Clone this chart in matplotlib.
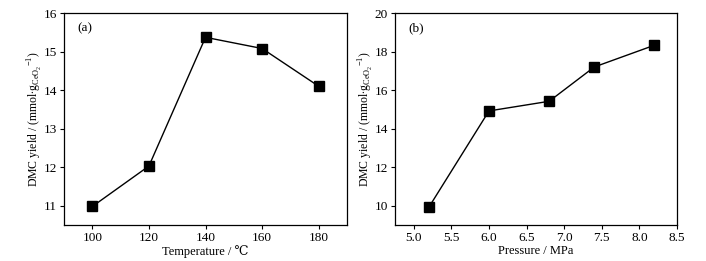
import matplotlib
matplotlib.use("Agg")
import matplotlib.pyplot as plt

plt.rcParams['font.family'] = ['Liberation Serif', 'DejaVu Serif']
plt.rcParams['mathtext.fontset'] = 'custom'
plt.rcParams['mathtext.rm'] = 'Liberation Serif'

temp = [100, 120, 140, 160, 180]
yield_temp = [10.98, 12.03, 15.37, 15.08, 14.10]

pressure = [5.2, 6.0, 6.8, 7.4, 8.2]
yield_pres = [9.92, 14.92, 15.42, 17.20, 18.33]

ylabel = r'DMC yield / (mmol$\bullet$g$_{\mathrm{CeO_2}}$$^{-1}$)'

fig = plt.figure(figsize=(7.06, 2.61), dpi=100)
ax1 = fig.add_axes([0.0907, 0.138, 0.4008, 0.812])
ax2 = fig.add_axes([0.5595, 0.138, 0.3994, 0.812])

for ax, x, y in [(ax1, temp, yield_temp), (ax2, pressure, yield_pres)]:
    ax.plot(x, y, color='black', lw=1, marker='s', markersize=7)
    ax.tick_params(direction='out', length=3, width=0.8, labelsize=9.5, pad=2)
    for s in ax.spines.values():
        s.set_linewidth(0.9)
    ax.set_ylabel(ylabel, fontsize=8.5, labelpad=0)

ax1.set_xlim(90, 190)
ax1.set_ylim(10.5, 16)
ax1.set_xticks([100, 120, 140, 160, 180])
ax1.set_yticks([11, 12, 13, 14, 15, 16])
ax1.set_xlabel('Temperature / ℃', fontsize=9, labelpad=1)
ax1.text(0.046, 0.93, '(a)', transform=ax1.transAxes, fontsize=9.5, va='center')

ax2.set_xlim(4.75, 8.5)
ax2.set_ylim(9, 20)
ax2.set_xticks([5.0, 5.5, 6.0, 6.5, 7.0, 7.5, 8.0, 8.5])
ax2.set_yticks([10, 12, 14, 16, 18, 20])
ax2.set_xlabel('Pressure / MPa', fontsize=9, labelpad=1)
ax2.text(0.046, 0.93, '(b)', transform=ax2.transAxes, fontsize=9.5, va='center')

fig.savefig('out.png', dpi=100)
